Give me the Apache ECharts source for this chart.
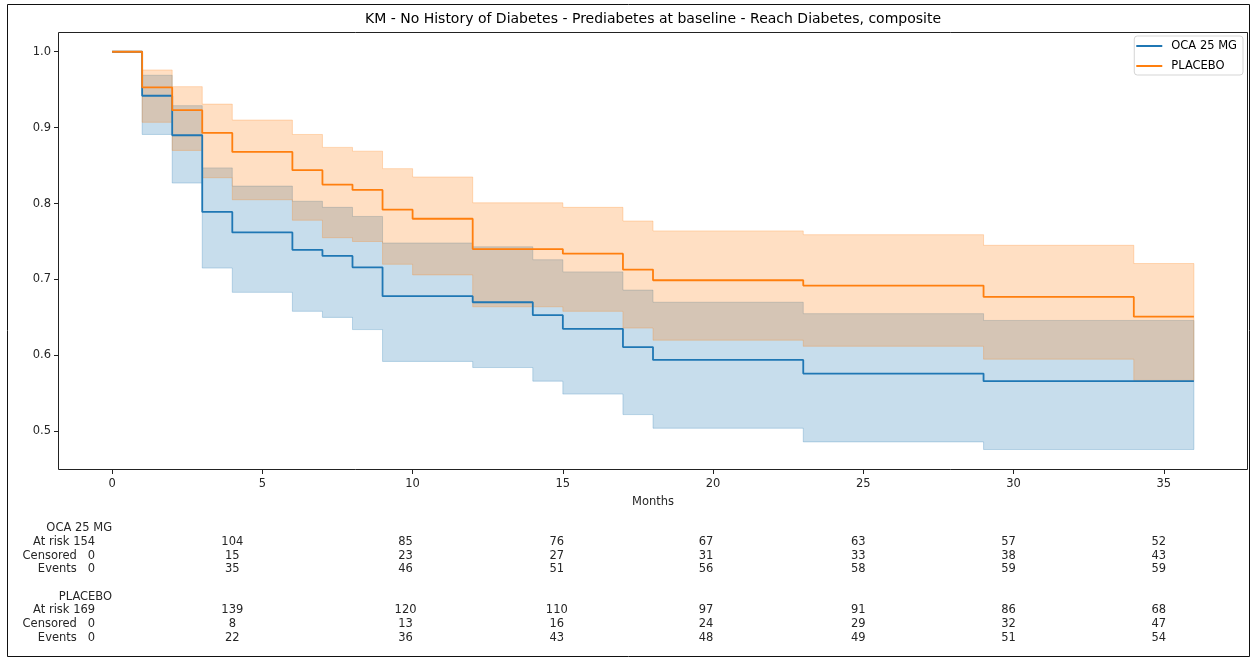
<!DOCTYPE html>
<html>
<head>
<meta charset="utf-8">
<script src="https://cdn.jsdelivr.net/npm/echarts@6/dist/echarts.min.js"></script>
<style>
  html, body { margin: 0; padding: 0; background: #fff; }
  #chart { width: 1253px; height: 659px; }
</style>
</head>
<body>
<div id="chart"></div>
<script>
// ---------- data ----------
const titleText = 'KM - No History of Diabetes - Prediabetes at baseline - Reach Diabetes, composite';
const xTicks = [0, 5, 10, 15, 20, 25, 30, 35];
const yTicks = [0.5, 0.6, 0.7, 0.8, 0.9, 1.0];

const ocaName = 'OCA 25 MG';
const ocaMonths = [0, 1, 2, 3, 4, 6, 7, 8, 9, 12, 14, 15, 17, 18, 23, 29, 36];
const ocaSurv   = [1.0, 0.942, 0.890, 0.789, 0.762, 0.739, 0.731, 0.716, 0.678, 0.670, 0.653, 0.635, 0.611, 0.594, 0.576, 0.566, 0.566];
const ocaLower  = [1.0, 0.891, 0.827, 0.715, 0.683, 0.658, 0.650, 0.634, 0.592, 0.584, 0.566, 0.549, 0.522, 0.504, 0.486, 0.476, 0.476];
const ocaUpper  = [1.0, 0.969, 0.929, 0.847, 0.823, 0.803, 0.795, 0.783, 0.748, 0.743, 0.726, 0.710, 0.686, 0.670, 0.655, 0.646, 0.646];

const pboName = 'PLACEBO';
const pboMonths = [0, 1, 2, 3, 4, 6, 7, 8, 9, 10, 12, 15, 17, 18, 23, 29, 34, 36];
const pboSurv   = [1.0, 0.953, 0.923, 0.893, 0.868, 0.844, 0.825, 0.818, 0.792, 0.780, 0.740, 0.734, 0.713, 0.699, 0.692, 0.677, 0.651, 0.651];
const pboLower  = [1.0, 0.907, 0.870, 0.834, 0.805, 0.778, 0.755, 0.750, 0.720, 0.706, 0.664, 0.658, 0.636, 0.620, 0.612, 0.595, 0.567, 0.567];
const pboUpper  = [1.0, 0.976, 0.954, 0.931, 0.910, 0.891, 0.874, 0.869, 0.846, 0.835, 0.801, 0.795, 0.777, 0.764, 0.759, 0.745, 0.721, 0.721];

// at-risk table (one value per x tick)
const rowNames = ['At risk', 'Censored', 'Events'];
const ocaAtRisk   = [154, 104, 85, 76, 67, 63, 57, 52];
const ocaCensored = [0, 15, 23, 27, 31, 33, 38, 43];
const ocaEvents   = [0, 35, 46, 51, 56, 58, 59, 59];
const pboAtRisk   = [169, 139, 120, 110, 97, 91, 86, 68];
const pboCensored = [0, 8, 13, 16, 24, 29, 32, 47];
const pboEvents   = [0, 22, 36, 43, 48, 49, 51, 54];

// ---------- styling ----------
const BLUE = '#1f77b4';
const ORANGE = '#ff7f0e';
const FONT = 'DejaVu Sans';
const FS = 11.5;
const TXT = '#262626';
const X_MIN = -1.8, X_MAX = 37.8;
const Y_MIN = 0.449, Y_MAX = 1.026;
// pixel shift (left) of the centred count columns, per tick column
const colShift = [0, 30, 7, 6, 7, 5, 5, 5];

function pairs(xs, ys) { return xs.map((x, i) => [x, ys[i]]); }

function bandSeries(months, lower, upper, rgba) {
  return {
    type: 'custom',
    silent: true,
    data: months.map((m, i) => [m, lower[i], upper[i]]),
    encode: { x: 0, y: [1, 2] },
    renderItem: function (params, api) {
      if (params.dataIndex !== 0) return null;
      const top = [], bot = [];
      for (let i = 0; i < months.length - 1; i++) {
        top.push(api.coord([months[i], upper[i]]));
        top.push(api.coord([months[i + 1], upper[i]]));
        bot.push(api.coord([months[i], lower[i]]));
        bot.push(api.coord([months[i + 1], lower[i]]));
      }
      return {
        type: 'polygon',
        shape: { points: top.concat(bot.reverse()) },
        style: { fill: rgba, stroke: rgba, lineWidth: 1 }
      };
    }
  };
}

function lineSeries(name, months, surv, color) {
  return {
    name: name,
    type: 'line',
    step: 'end',
    symbol: 'none',
    silent: true,
    data: pairs(months, surv),
    lineStyle: { color: color, width: 1.8 },
    itemStyle: { color: color }
  };
}

function baseTableAxis(offset) {
  return {
    type: 'value',
    gridIndex: 0,
    position: 'bottom',
    offset: offset,
    min: X_MIN, max: X_MAX,
    axisLine: { show: false, onZero: false },
    axisTick: { show: false },
    splitLine: { show: false }
  };
}

const richCols = {};
colShift.forEach((s, k) => {
  richCols['s' + k] = { fontFamily: FONT, fontSize: FS, color: TXT, padding: [0, 2 * s, 0, 0] };
});
richCols.r = { fontFamily: FONT, fontSize: FS, color: TXT, padding: [0, 17, 0, 0] };

// title rows (group names), right-aligned at tick 0
function titleAxis(text, offset) {
  return Object.assign(baseTableAxis(offset), {
    axisLabel: {
      customValues: [xTicks[0]], margin: 0, align: 'right',
      fontFamily: FONT, fontSize: FS, color: TXT,
      formatter: () => text
    }
  });
}
// first column: row name + count
function firstColAxis(name, count, offset) {
  return Object.assign(baseTableAxis(offset), {
    axisLabel: {
      customValues: [xTicks[0]], margin: 0, align: 'right',
      fontFamily: FONT, fontSize: FS, color: TXT,
      formatter: () => '{r|' + name.padStart(8, ' ') + ' ' + String(count).padStart(3, ' ') + '}',
      rich: richCols
    }
  });
}
// remaining columns: centred counts
function countAxis(vals, offset) {
  return Object.assign(baseTableAxis(offset), {
    axisLabel: {
      customValues: xTicks.slice(1), margin: 0, align: 'center',
      fontFamily: FONT, fontSize: FS, color: TXT,
      formatter: function (v) {
        const k = xTicks.indexOf(Math.round(v));
        return '{s' + k + '|' + vals[k] + '}';
      },
      rich: richCols
    }
  });
}

const groups = [
  { title: ocaName, rows: [ocaAtRisk, ocaCensored, ocaEvents], offsets: [52, 66, 80, 93] },
  { title: pboName, rows: [pboAtRisk, pboCensored, pboEvents], offsets: [121, 134, 148, 162] }
];
const tableAxes = [];
groups.forEach(g => {
  tableAxes.push(titleAxis(g.title, g.offsets[0]));
  g.rows.forEach((vals, j) => {
    tableAxes.push(firstColAxis(rowNames[j], vals[0], g.offsets[j + 1]));
    tableAxes.push(countAxis(vals, g.offsets[j + 1]));
  });
});

const chart = echarts.init(document.getElementById('chart'), null, { renderer: 'canvas' });

const option = {
  backgroundColor: '#fff',
  animation: false,
  textStyle: { fontFamily: FONT },
  grid: { left: 58, right: 5, top: 32, bottom: 189, containLabel: false },
  legend: {
    data: [ocaName, pboName],
    orient: 'vertical',
    right: 10,
    top: 36,
    padding: [4, 6, 3, 2],
    icon: 'rect',
    itemWidth: 26,
    itemHeight: 2,
    itemGap: 8,
    backgroundColor: 'rgba(255,255,255,0.8)',
    borderColor: '#d5d5d5',
    borderWidth: 1,
    borderRadius: 3,
    textStyle: { fontFamily: FONT, fontSize: FS, color: '#000', padding: [0, 0, 0, 4] }
  },
  graphic: [
    {
      type: 'text', x: 653, y: 19.5, silent: true,
      style: { text: titleText, textAlign: 'center', textVerticalAlign: 'middle',
               fontFamily: FONT, fontSize: 14, fill: '#000' }
    },
    {
      type: 'rect', silent: true, z: -1,
      shape: { x: 7.5, y: 4.5, width: 1242, height: 652 },
      style: { fill: 'none', stroke: '#111', lineWidth: 1 }
    },
    {
      type: 'rect', silent: true, z: 10,
      shape: { x: 58.5, y: 32.5, width: 1189, height: 437 },
      style: { fill: 'none', stroke: '#222', lineWidth: 1 }
    }
  ],
  xAxis: [
    {
      type: 'value',
      min: X_MIN, max: X_MAX,
      name: 'Months',
      nameLocation: 'middle',
      nameGap: 26,
      nameTextStyle: { fontFamily: FONT, fontSize: FS, color: TXT },
      axisLine: { show: false, onZero: false },
      axisTick: { show: true, customValues: xTicks, length: 4, lineStyle: { color: '#222' } },
      splitLine: { show: false },
      axisLabel: { customValues: xTicks, margin: 8.5, fontFamily: FONT, fontSize: FS, color: TXT }
    }
  ].concat(tableAxes),
  yAxis: {
    type: 'value',
    min: Y_MIN, max: Y_MAX,
    axisLine: { show: false, onZero: false },
    axisTick: { show: true, customValues: yTicks, length: 4, lineStyle: { color: '#222' } },
    splitLine: { show: false },
    axisLabel: {
      customValues: yTicks, margin: 7, fontFamily: FONT, fontSize: FS, color: TXT,
      formatter: v => v.toFixed(1)
    }
  },
  series: [
    lineSeries(ocaName, ocaMonths, ocaSurv, BLUE),
    bandSeries(ocaMonths, ocaLower, ocaUpper, 'rgba(31,119,180,0.25)'),
    lineSeries(pboName, pboMonths, pboSurv, ORANGE),
    bandSeries(pboMonths, pboLower, pboUpper, 'rgba(255,127,14,0.25)')
  ]
};
chart.setOption(option);
</script>
</body>
</html>
